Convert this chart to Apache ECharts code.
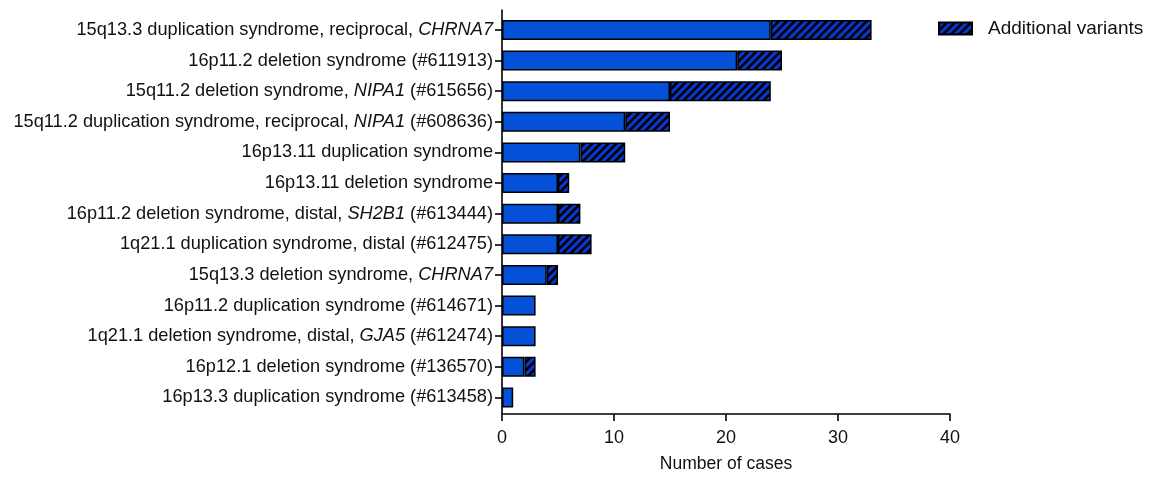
<!DOCTYPE html>
<html>
<head>
<meta charset="utf-8">
<script src="https://cdn.jsdelivr.net/npm/echarts@6/dist/echarts.min.js"></script>
<style>
  html, body { margin: 0; padding: 0; background: #ffffff; }
  #chart { width: 1159px; height: 478px; }
</style>
</head>
<body>
<div id="chart"></div>
<script>
// Copy-number syndromes, listed top to bottom
const categories = [
  '15q13.3 duplication syndrome, reciprocal, CHRNA7',
  '16p11.2 deletion syndrome (#611913)',
  '15q11.2 deletion syndrome, NIPA1 (#615656)',
  '15q11.2 duplication syndrome, reciprocal, NIPA1 (#608636)',
  '16p13.11 duplication syndrome',
  '16p13.11 deletion syndrome',
  '16p11.2 deletion syndrome, distal, SH2B1 (#613444)',
  '1q21.1 duplication syndrome, distal (#612475)',
  '15q13.3 deletion syndrome, CHRNA7',
  '16p11.2 duplication syndrome (#614671)',
  '1q21.1 deletion syndrome, distal, GJA5 (#612474)',
  '16p12.1 deletion syndrome (#136570)',
  '16p13.3 duplication syndrome (#613458)'
];
// Cases without and with additional variants
const baseCases          = [24, 21, 15, 11, 7, 5, 5, 5, 4, 3, 3, 2, 1];
const additionalVariants = [ 9,  4,  9,  4, 4, 1, 2, 3, 1, 0, 0, 1, 0];
const xTicks = [0, 10, 20, 30, 40];
// Gene symbols set in italics within the labels
const geneSymbols = ['CHRNA7', 'NIPA1', 'SH2B1', 'GJA5'];

const FONT = '"Liberation Sans", Arial, Helvetica, sans-serif';
const TEXT = '#111111';
const BAR_BLUE = '#0450d6';
const HATCH_BLUE = '#0838cf';
const LABEL_SIZE = 18.2;

// Diagonal "/" hatching tile
function hatchPattern(bg) {
  const size = 8;
  const c = document.createElement('canvas');
  c.width = size; c.height = size;
  const g = c.getContext('2d');
  g.fillStyle = bg;
  g.fillRect(0, 0, size, size);
  g.strokeStyle = '#000000';
  g.lineWidth = 2.6;
  g.beginPath();
  for (const k of [0, size, 2 * size]) {
    g.moveTo(k + 2, -2);
    g.lineTo(k - size - 2, size + 2);
  }
  g.stroke();
  return { image: c, repeat: 'repeat' };
}

function labelWithItalics(text) {
  let out = '{n|' + text + '}';
  geneSymbols.forEach(function (s) {
    out = out.split(s).join('}{i|' + s + '}{n|');
  });
  return out.replace(/\{n\|\}/g, '');
}

const chart = echarts.init(document.getElementById('chart'), null, { renderer: 'canvas' });

const xMin = xTicks[0], xMax = xTicks[xTicks.length - 1], xStep = xTicks[1] - xTicks[0];

chart.setOption({
  animation: false,
  backgroundColor: '#ffffff',
  textStyle: { fontFamily: FONT },
  legend: {
    data: ['Additional variants'],
    left: 938,
    top: 19,
    padding: 0,
    itemWidth: 33,
    itemHeight: 12,
    icon: 'rect',
    textStyle: { fontFamily: FONT, fontSize: 19, color: TEXT, padding: [0, 0, 0, 11] }
  },
  grid: [
    { left: 502, right: 209, top: 14.7, height: 398, containLabel: false },
    { left: 502, right: 209, top: 10, bottom: 59, containLabel: false }
  ],
  xAxis: [
    { gridIndex: 0, type: 'value', min: xMin, max: xMax, interval: xStep, show: false },
    {
      gridIndex: 1, type: 'value', min: xMin, max: xMax, interval: xStep,
      name: 'Number of cases', nameLocation: 'middle', nameGap: 41,
      nameTextStyle: { fontFamily: FONT, fontSize: 17.5, color: TEXT },
      axisLine: { show: true, onZero: false, lineStyle: { color: '#000', width: 1.6 } },
      axisTick: { show: true, length: 7, lineStyle: { color: '#000', width: 1.6 } },
      axisLabel: { margin: 15, fontFamily: FONT, fontSize: 18, color: TEXT },
      splitLine: { show: false }
    }
  ],
  yAxis: [
    {
      gridIndex: 0, type: 'category', inverse: true, data: categories,
      axisLine: { show: false },
      axisTick: { show: true, alignWithLabel: true, length: 7, lineStyle: { color: '#000', width: 1.6 } },
      axisLabel: {
        margin: 9, fontFamily: FONT, fontSize: LABEL_SIZE, color: TEXT,
        formatter: labelWithItalics,
        rich: {
          n: { fontFamily: FONT, fontSize: LABEL_SIZE, color: TEXT },
          i: { fontFamily: FONT, fontSize: LABEL_SIZE, color: TEXT, fontStyle: 'italic' }
        }
      },
      splitLine: { show: false }
    },
    {
      gridIndex: 1, type: 'value', min: 0, max: 1,
      axisLine: { show: true, lineStyle: { color: '#000', width: 1.6 } },
      axisTick: { show: false }, axisLabel: { show: false }, splitLine: { show: false }
    }
  ],
  series: [
    {
      name: 'Cases',
      type: 'bar',
      xAxisIndex: 0, yAxisIndex: 0,
      stack: 'total',
      barWidth: 20,
      data: baseCases,
      itemStyle: { color: BAR_BLUE, borderColor: '#000', borderWidth: 1.5 }
    },
    {
      name: 'Additional variants',
      type: 'bar',
      xAxisIndex: 0, yAxisIndex: 0,
      stack: 'total',
      barWidth: 20,
      data: additionalVariants.map(function (v) { return v === 0 ? null : v; }),
      itemStyle: { color: hatchPattern(HATCH_BLUE), borderColor: '#000', borderWidth: 1.5 }
    }
  ]
});
</script>
</body>
</html>
